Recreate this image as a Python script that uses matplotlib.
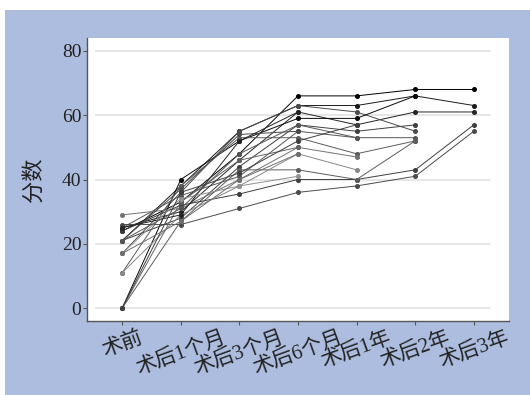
import matplotlib
matplotlib.use("Agg")
import matplotlib.pyplot as plt
from matplotlib.patches import Rectangle
import numpy as np

plt.rcParams['font.family'] = ['Liberation Serif', 'Noto Sans CJK SC', 'DejaVu Sans']

# time points
categories = ['术前', '术后1个月', '术后3个月', '术后6个月', '术后1年', '术后2年', '术后3年']

# scores per patient (nan = not followed up)
nan = np.nan
p01 = [24, 33, 48, 66, 66, 68, 68]
p02 = [21, 38, 55, 63, 63, 66, 63]
p03 = [25, 30, 46, 61, 57, 61, 61]
p04 = [17, 36, 55, 63, 61, 55, nan]
p05 = [0, 40, 52, 59, 59, 66, nan]
p06 = [21, 28, 44, 57, 55, 57, nan]
p07 = [25, 35, 41, 55, 53, 53, nan]
p08 = [11, 38, 53, 53, 48, 52, nan]
p09 = [29, 31, 40, 50, 47, nan, nan]
p10 = [26, 26, 31, 36, 38, 41, 55]
p11 = [24, 32, 35.5, 40, 40, 43, 57]
p12 = [0, 27, 43, 43, 40, 52, nan]
p13 = [11, 29, 38, 48, 43, nan, nan]
p14 = [0, 33, 46, 50, nan, nan, nan]
p15 = [21, 37, 54, 55, nan, nan, nan]
p16 = [25, 29, 52, 61, nan, nan, nan]
p17 = [17, 34, 38, 41, nan, nan, nan]
p18 = [0, 36, 42, 52, 57, nan, nan]
p19 = [21, 31, 48, 57, 53, nan, nan]
p20 = [17, 27, 40, 48, nan, nan, nan]
patients = [p01, p02, p03, p04, p05, p06, p07, p08, p09, p10,
            p11, p12, p13, p14, p15, p16, p17, p18, p19, p20]

yticks = [0, 20, 40, 60, 80]

fig = plt.figure(figsize=(5.3, 3.95), dpi=100, facecolor='white')
fig.patches.append(Rectangle((5 / 530, 0), 1, 1 - 10 / 395, transform=fig.transFigure,
                             facecolor='#adbddf', edgecolor='none', zorder=-10))

ax = fig.add_axes([87 / 530, 1 - 321 / 395, 422 / 530, 283 / 395])
ax.set_facecolor('white')

for y in yticks:
    ax.axhline(y, xmin=0.022, xmax=0.955, color='#e2e2e2', lw=1.2, zorder=0)

x = np.arange(len(categories))
cmap = plt.get_cmap('Greys')
for p in patients:
    vals = np.array(p, dtype=float)
    mask = ~np.isnan(vals)
    last = vals[mask][-1]
    shade = 0.5 + 0.5 * np.clip((last - 40) / 28, 0, 1)
    col = cmap(shade)
    ax.plot(x[mask], vals[mask], color=col, lw=0.7, marker='o', markersize=2.6, zorder=2)

ax.set_xlim(-0.6, 6.6)
ax.set_ylim(-4, 84)
ax.set_xticks(x)
ax.set_xticklabels(categories, rotation=20, ha='center')
ax.set_yticks(yticks)

for s in ['top', 'right']:
    ax.spines[s].set_visible(False)
for s in ['left', 'bottom']:
    ax.spines[s].set_color('#555555')
    ax.spines[s].set_linewidth(1.0)

ax.tick_params(axis='y', labelsize=14, length=3, pad=1, color='#555555', labelcolor='#222222')
ax.tick_params(axis='x', labelsize=15, length=3, pad=2, color='#555555', labelcolor='#222222')

fig.text(35 / 530, 1 - 180 / 395, '分数', rotation=90, ha='center', va='center',
         fontsize=16, color='#222222')

fig.savefig('out.png', dpi=100, facecolor=fig.get_facecolor())
